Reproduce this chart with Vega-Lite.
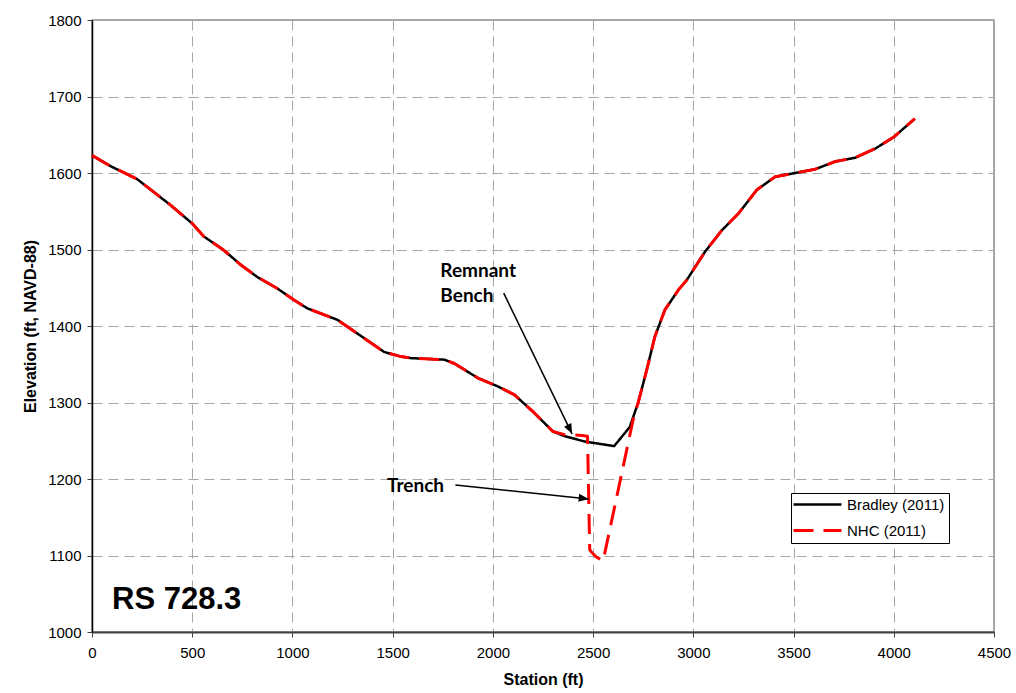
{
  "$schema": "https://vega.github.io/schema/vega-lite/v6.json",
  "width": 902,
  "height": 612,
  "autosize": "none",
  "padding": {"left": 92, "top": 20, "right": 22, "bottom": 61},
  "background": "white",
  "config": {
    "view": {"stroke": "#8c8c8c", "strokeWidth": 1.5},
    "font": "Liberation Sans",
    "axis": {
      "labelFont": "Liberation Sans",
      "labelFontSize": 15,
      "labelColor": "#000000",
      "labelFlush": false,
      "titleFont": "Liberation Sans",
      "titleFontSize": 16,
      "titleFontWeight": "bold",
      "titleColor": "#000000",
      "grid": true,
      "gridColor": "#a6a6a6",
      "gridDash": [10, 6],
      "gridWidth": 1,
      "tickSize": 5,
      "tickColor": "#404040",
      "tickWidth": 1
    }
  },
  "datasets": {
    "profile": [
      {"survey": "Bradley (2011)", "station": 0, "elev": 1623},
      {"survey": "Bradley (2011)", "station": 92, "elev": 1609},
      {"survey": "Bradley (2011)", "station": 225, "elev": 1592},
      {"survey": "Bradley (2011)", "station": 392, "elev": 1558},
      {"survey": "Bradley (2011)", "station": 500, "elev": 1534},
      {"survey": "Bradley (2011)", "station": 558, "elev": 1517},
      {"survey": "Bradley (2011)", "station": 658, "elev": 1499},
      {"survey": "Bradley (2011)", "station": 742, "elev": 1480},
      {"survey": "Bradley (2011)", "station": 825, "elev": 1464},
      {"survey": "Bradley (2011)", "station": 925, "elev": 1449},
      {"survey": "Bradley (2011)", "station": 1008, "elev": 1434},
      {"survey": "Bradley (2011)", "station": 1075, "elev": 1423},
      {"survey": "Bradley (2011)", "station": 1225, "elev": 1408},
      {"survey": "Bradley (2011)", "station": 1325, "elev": 1390},
      {"survey": "Bradley (2011)", "station": 1458, "elev": 1366},
      {"survey": "Bradley (2011)", "station": 1542, "elev": 1360},
      {"survey": "Bradley (2011)", "station": 1592, "elev": 1358},
      {"survey": "Bradley (2011)", "station": 1758, "elev": 1356},
      {"survey": "Bradley (2011)", "station": 1808, "elev": 1351},
      {"survey": "Bradley (2011)", "station": 1925, "elev": 1332},
      {"survey": "Bradley (2011)", "station": 2025, "elev": 1321},
      {"survey": "Bradley (2011)", "station": 2108, "elev": 1310},
      {"survey": "Bradley (2011)", "station": 2208, "elev": 1286},
      {"survey": "Bradley (2011)", "station": 2300, "elev": 1262},
      {"survey": "Bradley (2011)", "station": 2358, "elev": 1256},
      {"survey": "Bradley (2011)", "station": 2458, "elev": 1249},
      {"survey": "Bradley (2011)", "station": 2605, "elev": 1243},
      {"survey": "Bradley (2011)", "station": 2683, "elev": 1268},
      {"survey": "Bradley (2011)", "station": 2725, "elev": 1300},
      {"survey": "Bradley (2011)", "station": 2767, "elev": 1342},
      {"survey": "Bradley (2011)", "station": 2808, "elev": 1386},
      {"survey": "Bradley (2011)", "station": 2858, "elev": 1421},
      {"survey": "Bradley (2011)", "station": 2925, "elev": 1447},
      {"survey": "Bradley (2011)", "station": 2967, "elev": 1460},
      {"survey": "Bradley (2011)", "station": 3058, "elev": 1497},
      {"survey": "Bradley (2011)", "station": 3142, "elev": 1525},
      {"survey": "Bradley (2011)", "station": 3225, "elev": 1547},
      {"survey": "Bradley (2011)", "station": 3317, "elev": 1578},
      {"survey": "Bradley (2011)", "station": 3408, "elev": 1595},
      {"survey": "Bradley (2011)", "station": 3508, "elev": 1600},
      {"survey": "Bradley (2011)", "station": 3608, "elev": 1605},
      {"survey": "Bradley (2011)", "station": 3708, "elev": 1615},
      {"survey": "Bradley (2011)", "station": 3808, "elev": 1620},
      {"survey": "Bradley (2011)", "station": 3908, "elev": 1632},
      {"survey": "Bradley (2011)", "station": 4000, "elev": 1647},
      {"survey": "Bradley (2011)", "station": 4105, "elev": 1671},
      {"survey": "NHC (2011)", "station": 0, "elev": 1623},
      {"survey": "NHC (2011)", "station": 92, "elev": 1609},
      {"survey": "NHC (2011)", "station": 225, "elev": 1592},
      {"survey": "NHC (2011)", "station": 392, "elev": 1558},
      {"survey": "NHC (2011)", "station": 500, "elev": 1534},
      {"survey": "NHC (2011)", "station": 558, "elev": 1517},
      {"survey": "NHC (2011)", "station": 658, "elev": 1499},
      {"survey": "NHC (2011)", "station": 742, "elev": 1480},
      {"survey": "NHC (2011)", "station": 825, "elev": 1464},
      {"survey": "NHC (2011)", "station": 925, "elev": 1449},
      {"survey": "NHC (2011)", "station": 1008, "elev": 1434},
      {"survey": "NHC (2011)", "station": 1075, "elev": 1423},
      {"survey": "NHC (2011)", "station": 1225, "elev": 1408},
      {"survey": "NHC (2011)", "station": 1325, "elev": 1390},
      {"survey": "NHC (2011)", "station": 1458, "elev": 1366},
      {"survey": "NHC (2011)", "station": 1542, "elev": 1360},
      {"survey": "NHC (2011)", "station": 1592, "elev": 1358},
      {"survey": "NHC (2011)", "station": 1758, "elev": 1356},
      {"survey": "NHC (2011)", "station": 1808, "elev": 1351},
      {"survey": "NHC (2011)", "station": 1925, "elev": 1332},
      {"survey": "NHC (2011)", "station": 2025, "elev": 1321},
      {"survey": "NHC (2011)", "station": 2108, "elev": 1310},
      {"survey": "NHC (2011)", "station": 2208, "elev": 1286},
      {"survey": "NHC (2011)", "station": 2300, "elev": 1262},
      {"survey": "NHC (2011)", "station": 2358, "elev": 1258},
      {"survey": "NHC (2011)", "station": 2445, "elev": 1257},
      {"survey": "NHC (2011)", "station": 2472, "elev": 1256},
      {"survey": "NHC (2011)", "station": 2483, "elev": 1108},
      {"survey": "NHC (2011)", "station": 2490, "elev": 1105},
      {"survey": "NHC (2011)", "station": 2516, "elev": 1098},
      {"survey": "NHC (2011)", "station": 2550, "elev": 1093},
      {"survey": "NHC (2011)", "station": 2700, "elev": 1278},
      {"survey": "NHC (2011)", "station": 2725, "elev": 1300},
      {"survey": "NHC (2011)", "station": 2767, "elev": 1342},
      {"survey": "NHC (2011)", "station": 2808, "elev": 1386},
      {"survey": "NHC (2011)", "station": 2858, "elev": 1421},
      {"survey": "NHC (2011)", "station": 2925, "elev": 1447},
      {"survey": "NHC (2011)", "station": 2967, "elev": 1460},
      {"survey": "NHC (2011)", "station": 3058, "elev": 1497},
      {"survey": "NHC (2011)", "station": 3142, "elev": 1525},
      {"survey": "NHC (2011)", "station": 3225, "elev": 1547},
      {"survey": "NHC (2011)", "station": 3317, "elev": 1578},
      {"survey": "NHC (2011)", "station": 3408, "elev": 1595},
      {"survey": "NHC (2011)", "station": 3508, "elev": 1600},
      {"survey": "NHC (2011)", "station": 3608, "elev": 1605},
      {"survey": "NHC (2011)", "station": 3708, "elev": 1615},
      {"survey": "NHC (2011)", "station": 3808, "elev": 1620},
      {"survey": "NHC (2011)", "station": 3908, "elev": 1632},
      {"survey": "NHC (2011)", "station": 4000, "elev": 1647},
      {"survey": "NHC (2011)", "station": 4105, "elev": 1671}
    ],
    "notes": [
      {"label": "Remnant", "station": 1738, "elev": 1464},
      {"label": "Bench", "station": 1738, "elev": 1432},
      {"label": "Trench", "station": 1472, "elev": 1183}
    ],
    "arrows": [
      {"target": "bench", "station": 2054, "elev": 1443, "tipStation": 2395, "tipElev": 1259},
      {"target": "trench", "station": 1813, "elev": 1192, "tipStation": 2478, "tipElev": 1174}
    ],
    "section": [
      {"label": "RS 728.3", "station": 100, "elev": 1030}
    ]
  },
  "layer": [
    {
      "data": {"name": "profile"},
      "mark": {"type": "line", "strokeJoin": "round"},
      "encoding": {
        "x": {
          "field": "station",
          "type": "quantitative",
          "title": "Station (ft)",
          "scale": {"domain": [0, 4500], "nice": false, "zero": false},
          "axis": {
            "values": [0, 500, 1000, 1500, 2000, 2500, 3000, 3500, 4000, 4500],
            "format": "d",
            "domainColor": "#404040",
            "domainWidth": 2,
            "labelPadding": 8,
            "titlePadding": 11
          }
        },
        "y": {
          "field": "elev",
          "type": "quantitative",
          "title": "Elevation (ft, NAVD-88)",
          "scale": {"domain": [1000, 1800], "nice": false, "zero": false},
          "axis": {
            "values": [1000, 1100, 1200, 1300, 1400, 1500, 1600, 1700, 1800],
            "format": "d",
            "domainColor": "#000000",
            "domainWidth": 1.5,
            "labelPadding": 6,
            "titlePadding": 9
          }
        },
        "color": {
          "field": "survey",
          "type": "nominal",
          "scale": {"domain": ["Bradley (2011)", "NHC (2011)"], "range": ["#000000", "#ff0000"]},
          "legend": {
            "title": null,
            "orient": "none",
            "legendX": 699,
            "legendY": 473,
            "strokeColor": "#000000",
            "fillColor": "#ffffff",
            "padding": 4,
            "rowPadding": 10,
            "symbolType": "M-4,0L4,0",
            "symbolSize": 144,
            "symbolOffset": 15,
            "labelFont": "Liberation Sans",
            "labelFontSize": 15,
            "labelColor": "#000000",
            "labelOffset": 22
          }
        },
        "strokeDash": {
          "field": "survey",
          "type": "nominal",
          "scale": {"domain": ["Bradley (2011)", "NHC (2011)"], "range": [[1, 0], [20, 10]]}
        },
        "strokeWidth": {
          "field": "survey",
          "type": "nominal",
          "scale": {"domain": ["Bradley (2011)", "NHC (2011)"], "range": [2.5, 3]}
        }
      }
    },
    {
      "data": {"name": "arrows"},
      "mark": {"type": "rule", "color": "#000000", "strokeWidth": 1.5},
      "encoding": {
        "x": {"field": "station", "type": "quantitative"},
        "y": {"field": "elev", "type": "quantitative"},
        "x2": {"field": "tipStation"},
        "y2": {"field": "tipElev"}
      }
    },
    {
      "data": {"name": "arrows"},
      "transform": [{"filter": "datum.target === 'bench'"}],
      "mark": {"type": "point", "shape": "M0,0L0.4,1L-0.4,1Z", "filled": true, "color": "#000000", "opacity": 1, "size": 400, "angle": 154},
      "encoding": {
        "x": {"field": "tipStation", "type": "quantitative"},
        "y": {"field": "tipElev", "type": "quantitative"}
      }
    },
    {
      "data": {"name": "arrows"},
      "transform": [{"filter": "datum.target === 'trench'"}],
      "mark": {"type": "point", "shape": "M0,0L0.4,1L-0.4,1Z", "filled": true, "color": "#000000", "opacity": 1, "size": 400, "angle": 96},
      "encoding": {
        "x": {"field": "tipStation", "type": "quantitative"},
        "y": {"field": "tipElev", "type": "quantitative"}
      }
    },
    {
      "data": {"name": "notes"},
      "mark": {"type": "text", "font": "Lato", "fontWeight": "bold", "fontSize": 19, "align": "left", "baseline": "alphabetic", "color": "#000000"},
      "encoding": {
        "x": {"field": "station", "type": "quantitative"},
        "y": {"field": "elev", "type": "quantitative"},
        "text": {"field": "label"}
      }
    },
    {
      "data": {"name": "section"},
      "mark": {"type": "text", "font": "Liberation Sans", "fontWeight": "bold", "fontSize": 31, "align": "left", "baseline": "alphabetic", "color": "#000000"},
      "encoding": {
        "x": {"field": "station", "type": "quantitative"},
        "y": {"field": "elev", "type": "quantitative"},
        "text": {"field": "label"}
      }
    }
  ]
}
